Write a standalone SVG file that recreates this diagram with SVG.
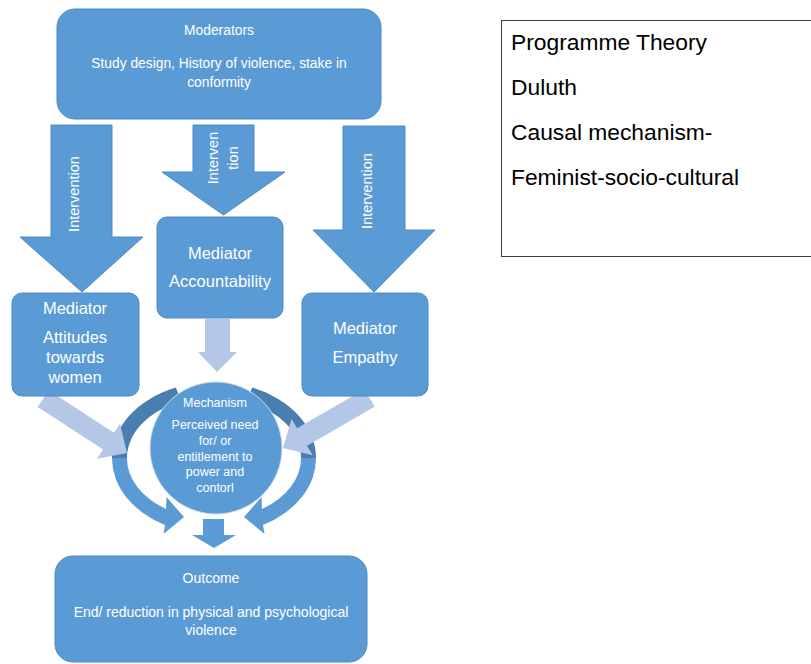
<svg xmlns="http://www.w3.org/2000/svg" width="811" height="664" viewBox="0 0 811 664">
  <style>
    .box { fill: #5B9BD5; stroke: #4C89C4; stroke-width: 1; }
    .big { fill: #5B9BD5; stroke: #4C89C4; stroke-width: 1; }
    .light { fill: #B4C7E7; }
    .dark { fill: #4A7EAF; }
    .mid { fill: #5B9BD5; }
    .wt { fill: #FFFFFF; font-family: "Liberation Sans", Arial, sans-serif; text-anchor: middle; }
    .panel { fill: #000000; font-family: "Liberation Sans", Arial, sans-serif; font-size: 22.8px; }
  </style>

  <rect width="811" height="664" fill="#FFFFFF"/>

  <!-- connectors -->
  <g id="connectors">
    <!-- block arrows from the moderators box -->
    <polygon class="big" points="51,125 112,125 112,237 143,237 82,292 20,237 51,237"/>
    <polygon class="big" points="193,125 254,125 254,172 285,172 223.5,215 162,172 193,172"/>
    <polygon class="big" points="343,126 405,126 405,230 435,230 374,292 313,230 343,230"/>

    <!-- circular arrows round the mechanism -->
    <path class="dark" d="M175.8,387.5 A102,76 0 0 0 112,458 L127,458 A87,61 0 0 1 181.4,401.4 Z"/>
    <path class="dark" d="M252.2,387.5 A102,76 0 0 1 316,458 L301,458 A87,61 0 0 0 246.6,401.4 Z"/>
    <path class="mid" d="M112,458 A102,76 0 0 0 165,525 L163.5,534 L184,517 L166.5,497 L166,509 A87,61 0 0 1 127,458 Z"/>
    <path class="mid" d="M316,458 A102,76 0 0 1 263,525 L264.5,534 L244,517 L261.5,497 L262,509 A87,61 0 0 0 301,458 Z"/>

    <!-- light arrows from the mediators -->
    <polygon class="light" points="205,319 230,319 230,352 237,352 217,372 198,352 205,352"/>
    <polygon class="light" transform="translate(127,453) rotate(33)" points="-100,-10 -22,-10 -22,-21 0,0 -22,21 -22,10 -100,10"/>
    <polygon class="light" transform="translate(283,448) rotate(150)" points="-100,-10 -22,-10 -22,-21 0,0 -22,21 -22,10 -100,10"/>

    <!-- arrow to the outcome -->
    <polygon class="mid" points="203,519 224,519 224,535 236,535 214,548 192,535 203,535"/>
  </g>

  <!-- moderators -->
  <g id="moderators">
    <rect class="box" x="57" y="9" width="324" height="110" rx="18"/>
    <text class="wt" x="219" y="35" font-size="13.8">Moderators</text>
    <text class="wt" x="219" y="68" font-size="13.8">Study design, History of violence, stake in</text>
    <text class="wt" x="219" y="87" font-size="13.8">conformity</text>
  </g>

  <!-- intervention labels on the block arrows -->
  <g id="intervention-labels">
    <text class="wt" font-size="14.5" transform="translate(79,194) rotate(-90)">Intervention</text>
    <text class="wt" font-size="14.5" transform="translate(218,158) rotate(-90)">Interven</text>
    <text class="wt" font-size="14.5" transform="translate(238,158) rotate(-90)">tion</text>
    <text class="wt" font-size="14.5" transform="translate(372,191) rotate(-90)">Intervention</text>
  </g>

  <!-- mediator: accountability -->
  <g id="mediator-accountability">
    <rect class="box" x="157" y="217" width="126" height="101" rx="10"/>
    <text class="wt" x="220" y="259" font-size="16.5">Mediator</text>
    <text class="wt" x="220" y="287" font-size="16.5">Accountability</text>
  </g>

  <!-- mediator: attitudes -->
  <g id="mediator-attitudes">
    <rect class="box" x="12" y="293" width="127" height="103" rx="10"/>
    <text class="wt" x="75" y="314" font-size="16.5">Mediator</text>
    <text class="wt" x="75" y="343" font-size="16.5">Attitudes</text>
    <text class="wt" x="75" y="363" font-size="16.5">towards</text>
    <text class="wt" x="75" y="383" font-size="16.5">women</text>
  </g>

  <!-- mediator: empathy -->
  <g id="mediator-empathy">
    <rect class="box" x="302" y="293" width="126" height="103" rx="10"/>
    <text class="wt" x="365" y="334" font-size="16.5">Mediator</text>
    <text class="wt" x="365" y="363" font-size="16.5">Empathy</text>
  </g>

  <!-- mechanism -->
  <g id="mechanism">
    <circle cx="216" cy="448" r="66" fill="#5B9BD5" stroke="#C9DCF0" stroke-width="1"/>
    <text class="wt" x="215" y="407" font-size="12.5">Mechanism</text>
    <text class="wt" x="215" y="429" font-size="12.5">Perceived need</text>
    <text class="wt" x="215" y="445" font-size="12.5">for/ or</text>
    <text class="wt" x="215" y="461" font-size="12.5">entitlement to</text>
    <text class="wt" x="215" y="476" font-size="12.5">power and</text>
    <text class="wt" x="215" y="492" font-size="12.5">contorl</text>
  </g>

  <!-- outcome -->
  <g id="outcome">
    <rect class="box" x="55" y="556" width="312" height="106" rx="18"/>
    <text class="wt" x="211" y="583" font-size="14">Outcome</text>
    <text class="wt" x="211" y="617" font-size="14">End/ reduction in physical and psychological</text>
    <text class="wt" x="211" y="635" font-size="14">violence</text>
  </g>

  <!-- programme theory panel -->
  <g id="programme-theory">
    <rect x="501.5" y="20.5" width="330" height="236" fill="#FFFFFF" stroke="#3F3F3F" stroke-width="1"/>
    <text class="panel" x="511" y="50">Programme Theory</text>
    <text class="panel" x="511" y="95">Duluth</text>
    <text class="panel" x="511" y="140">Causal mechanism-</text>
    <text class="panel" x="511" y="185">Feminist-socio-cultural</text>
  </g>
</svg>
